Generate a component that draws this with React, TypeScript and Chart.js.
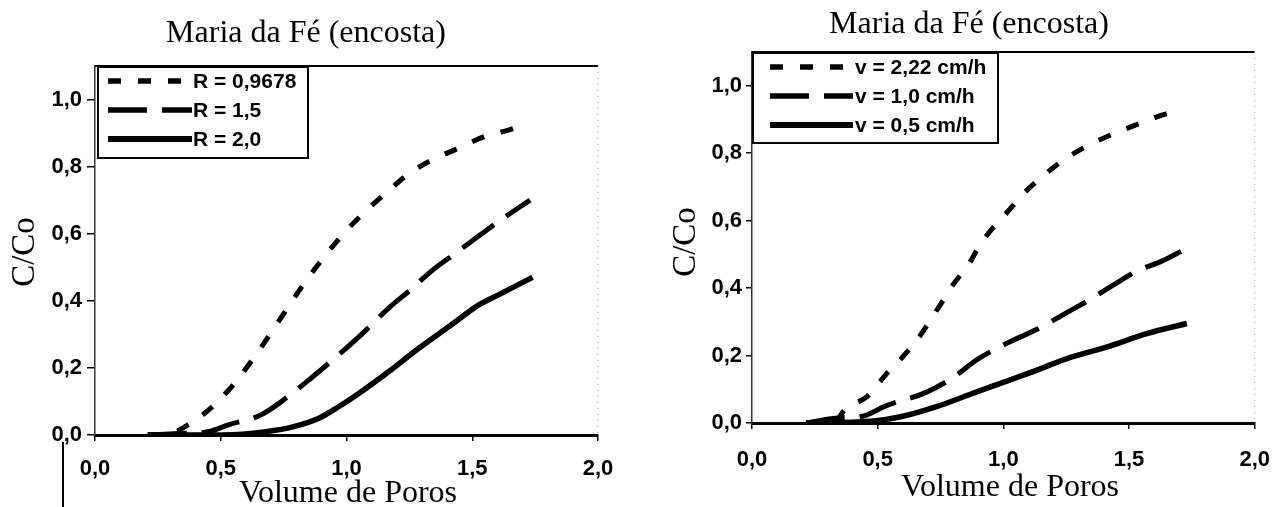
import React, { useEffect, useRef } from "react";
import { Chart, registerables } from "chart.js";
Chart.register(...registerables);

// ---------- shared text / ticks ----------
const chartTitle = "Maria da Fé (encosta)";
const xAxisTitle = "Volume de Poros";
const yAxisTitle = "C/Co";
const xTickValues = [0, 0.5, 1.0, 1.5, 2.0];
const yTickValues = [0, 0.2, 0.4, 0.6, 0.8, 1.0];

// ---------- left chart (retardation factor R) ----------
const leftLabels = ["R = 0,9678", "R = 1,5", "R = 2,0"];
const leftS1X = [0.21, 0.3, 0.37, 0.46, 0.55, 0.65, 0.74, 0.83, 0.91, 1.0, 1.08, 1.17, 1.25, 1.34, 1.43, 1.55, 1.65, 1.72];
const leftS1Y = [0, 0.005, 0.03, 0.08, 0.15, 0.25, 0.35, 0.45, 0.53, 0.61, 0.67, 0.73, 0.78, 0.82, 0.85, 0.89, 0.91, 0.93];
const leftS2X = [0.21, 0.35, 0.45, 0.53, 0.66, 0.76, 0.86, 0.97, 1.06, 1.17, 1.25, 1.34, 1.43, 1.52, 1.63, 1.73];
const leftS2Y = [0, 0.005, 0.01, 0.03, 0.06, 0.11, 0.17, 0.24, 0.3, 0.38, 0.43, 0.49, 0.54, 0.59, 0.65, 0.7];
const leftS3X = [0.21, 0.51, 0.68, 0.79, 0.89, 0.97, 1.06, 1.17, 1.29, 1.42, 1.52, 1.61, 1.74];
const leftS3Y = [0, 0, 0.01, 0.025, 0.05, 0.085, 0.13, 0.19, 0.26, 0.33, 0.385, 0.42, 0.47];

// ---------- right chart (velocity v) ----------
const rightLabels = ["v = 2,22 cm/h", "v = 1,0 cm/h", "v = 0,5 cm/h"];
const rightS1X = [0.215, 0.33, 0.37, 0.46, 0.54, 0.58, 0.66, 0.74, 0.8, 0.87, 0.9, 0.96, 1.01, 1.08, 1.17, 1.24, 1.33, 1.43, 1.55, 1.64, 1.71];
const rightS1Y = [0, 0.005, 0.04, 0.08, 0.15, 0.18, 0.25, 0.34, 0.41, 0.48, 0.52, 0.58, 0.62, 0.68, 0.74, 0.78, 0.82, 0.855, 0.89, 0.915, 0.93];
const rightS2X = [0.215, 0.34, 0.44, 0.53, 0.69, 0.79, 0.9, 1.01, 1.14, 1.235, 1.33, 1.44, 1.53, 1.63, 1.71];
const rightS2Y = [0, 0.015, 0.02, 0.05, 0.09, 0.13, 0.19, 0.235, 0.28, 0.32, 0.36, 0.41, 0.45, 0.48, 0.51];
const rightS3X = [0.215, 0.47, 0.6, 0.74, 0.85, 0.96, 1.11, 1.25, 1.41, 1.57, 1.73];
const rightS3Y = [0, 0.005, 0.02, 0.05, 0.08, 0.11, 0.15, 0.19, 0.225, 0.265, 0.295];

const pts = (xs: number[], ys: number[]) => xs.map((x, i) => ({ x, y: ys[i] }));
const fmt = (v: number) => v.toFixed(1).replace(".", ",");

const SANS = "'Liberation Sans', Arial, sans-serif";
const SERIF = "'Liberation Serif', 'Times New Roman', serif";

const decorPlugin = {
  id: "decor",
  afterDraw(chart: any, _args: any, o: any) {
    const ctx = chart.ctx;
    const a = chart.chartArea;
    ctx.save();
    // top frame
    ctx.strokeStyle = "#000";
    ctx.lineWidth = 2;
    ctx.setLineDash([]);
    ctx.beginPath();
    ctx.moveTo(a.left, a.top);
    ctx.lineTo(a.right, a.top);
    ctx.stroke();
    // right frame (faint dotted)
    ctx.strokeStyle = "#999";
    ctx.lineWidth = 1;
    ctx.setLineDash([1, 5]);
    ctx.beginPath();
    ctx.moveTo(a.right, a.top);
    ctx.lineTo(a.right, a.bottom);
    ctx.stroke();
    // scan artefact line
    if (o.artefact) {
      ctx.setLineDash([]);
      ctx.strokeStyle = "#000";
      ctx.lineWidth = 2;
      ctx.beginPath();
      ctx.moveTo(o.artefact.x, o.artefact.y0);
      ctx.lineTo(o.artefact.x, o.artefact.y1);
      ctx.stroke();
    }
    // legend
    const L = o.legend;
    ctx.setLineDash([]);
    ctx.fillStyle = "#fff";
    ctx.fillRect(L.x, L.y, L.w, L.h);
    ctx.strokeStyle = "#000";
    ctx.lineWidth = 2;
    ctx.strokeRect(L.x, L.y, L.w, L.h);
    ctx.font = `bold ${L.fontSize}px ${SANS}`;
    ctx.textAlign = "left";
    ctx.textBaseline = "middle";
    chart.data.datasets.forEach((ds: any, i: number) => {
      const yy = L.rows[i];
      ctx.strokeStyle = "#000";
      ctx.lineWidth = ds.borderWidth + 0.5;
      ctx.lineCap = "butt";
      ctx.setLineDash(ds.borderDash || []);
      ctx.beginPath();
      ctx.moveTo(L.x0, yy);
      ctx.lineTo(L.x1, yy);
      ctx.stroke();
      ctx.setLineDash([]);
      ctx.fillStyle = "#000";
      ctx.fillText(ds.label, L.tx, yy + 1);
    });
    // chart title
    ctx.fillStyle = "#000";
    ctx.font = `${o.titleSize}px ${SERIF}`;
    ctx.textAlign = "center";
    ctx.textBaseline = "alphabetic";
    ctx.fillText(chartTitle, o.titleX, o.titleY);
    // x axis title
    ctx.font = `${o.xTitleSize}px ${SERIF}`;
    ctx.fillText(xAxisTitle, o.xTitleX, o.xTitleY);
    // y axis title
    ctx.save();
    ctx.translate(o.yTitleX, o.yTitleY);
    ctx.rotate(-Math.PI / 2);
    ctx.font = `${o.yTitleSize}px ${SERIF}`;
    ctx.textBaseline = "middle";
    ctx.fillText(yAxisTitle, 0, 0);
    ctx.restore();
    ctx.restore();
  },
};

type Spec = {
  left: number;
  plotLeft: number;
  plotRight: number;
  plotTop: number;
  plotBottom: number;
  xPad: number;
  yPad: number;
  yTick: number;
  labels: string[];
  series: { x: number; y: number }[][];
  decor: any;
};

const W = 644;
const H = 507;

function BTC({ spec }: { spec: Spec }) {
  const ref = useRef<HTMLCanvasElement | null>(null);
  useEffect(() => {
    if (!ref.current) return;
    const dashes = [[13, 17], [39, 15], []];
    const widths = [5, 5, 5.5];
    const chart = new Chart(ref.current, {
      type: "line",
      data: {
        datasets: spec.series.map((d, i) => ({
          label: spec.labels[i],
          data: d,
          borderColor: "#000",
          backgroundColor: "#000",
          borderWidth: widths[i],
          borderDash: dashes[i],
          borderCapStyle: "butt",
          pointRadius: 0,
          fill: false,
          cubicInterpolationMode: "monotone",
        })),
      },
      options: {
        animation: false,
        responsive: false,
        devicePixelRatio: 1,
        layout: {
          padding: { left: 0, top: spec.plotTop, right: W - spec.plotRight, bottom: 0 },
        },
        plugins: {
          legend: { display: false },
          title: { display: false },
          tooltip: { enabled: false },
          decor: spec.decor,
        } as any,
        scales: {
          x: {
            type: "linear",
            min: 0,
            max: 2,
            afterFit: (s: any) => {
              s.height = H - spec.plotBottom;
            },
            afterBuildTicks: (s: any) => {
              s.ticks = xTickValues.map((v) => ({ value: v }));
            },
            ticks: {
              callback: (v: any) => fmt(Number(v)),
              font: { family: SANS, size: 22, weight: "bold" },
              color: "#000",
              padding: spec.xPad,
              maxRotation: 0,
            },
            grid: { drawOnChartArea: false, drawTicks: true, tickLength: 6, color: "#000", lineWidth: 1.5 },
            border: { display: true, color: "#000", width: 3 },
          },
          y: {
            type: "linear",
            min: 0,
            max: 1.1,
            afterFit: (s: any) => {
              s.width = spec.plotLeft;
            },
            afterBuildTicks: (s: any) => {
              s.ticks = yTickValues.map((v) => ({ value: v }));
            },
            ticks: {
              callback: (v: any) => fmt(Number(v)),
              font: { family: SANS, size: 22, weight: "bold" },
              color: "#000",
              padding: spec.yPad,
            },
            grid: { drawOnChartArea: false, drawTicks: true, tickLength: spec.yTick, color: "#000", lineWidth: 1.5 },
            border: { display: true, color: "#333", width: 1.5, dash: [3, 3] },
          },
        },
      } as any,
      plugins: [decorPlugin as any],
    });
    return () => chart.destroy();
  }, [spec]);
  return (
    <canvas
      ref={ref}
      width={W}
      height={H}
      style={{ position: "absolute", left: spec.left, top: 0, width: W, height: H }}
    />
  );
}

const leftSpec: Spec = {
  left: 0,
  plotLeft: 95,
  plotRight: 598,
  plotTop: 66,
  plotBottom: 435,
  xPad: 15,
  yPad: 5,
  yTick: 8,
  labels: leftLabels,
  series: [pts(leftS1X, leftS1Y), pts(leftS2X, leftS2Y), pts(leftS3X, leftS3Y)],
  decor: {
    titleX: 306,
    titleY: 42,
    titleSize: 32,
    xTitleX: 348,
    xTitleY: 502,
    xTitleSize: 32,
    yTitleX: 25,
    yTitleY: 252,
    yTitleSize: 33,
    artefact: { x: 63, y0: 442, y1: 507 },
    legend: { x: 98, y: 67, w: 210, h: 91, rows: [81, 110, 139], x0: 108, x1: 192, tx: 193, fontSize: 21 },
  },
};

const rightSpec: Spec = {
  left: 644,
  plotLeft: 752 - 644,
  plotRight: 1268 - 644,
  plotTop: 52,
  plotBottom: 423,
  xPad: 18,
  yPad: 4,
  yTick: 6,
  labels: rightLabels,
  series: [pts(rightS1X, rightS1Y), pts(rightS2X, rightS2Y), pts(rightS3X, rightS3Y)],
  decor: {
    titleX: 969 - 644,
    titleY: 33,
    titleSize: 32,
    xTitleX: 1010 - 644,
    xTitleY: 496,
    xTitleSize: 32,
    yTitleX: 686 - 644,
    yTitleY: 242,
    yTitleSize: 33,
    artefact: null,
    legend: { x: 753 - 644, y: 53, w: 245, h: 90, rows: [67, 96, 125], x0: 770 - 644, x1: 853 - 644, tx: 855 - 644, fontSize: 21 },
  },
};

export default function App() {
  return (
    <div style={{ position: "absolute", left: 0, top: 0, width: 1288, height: 507, background: "#fff", overflow: "hidden" }}>
      <BTC spec={leftSpec} />
      <BTC spec={rightSpec} />
    </div>
  );
}
